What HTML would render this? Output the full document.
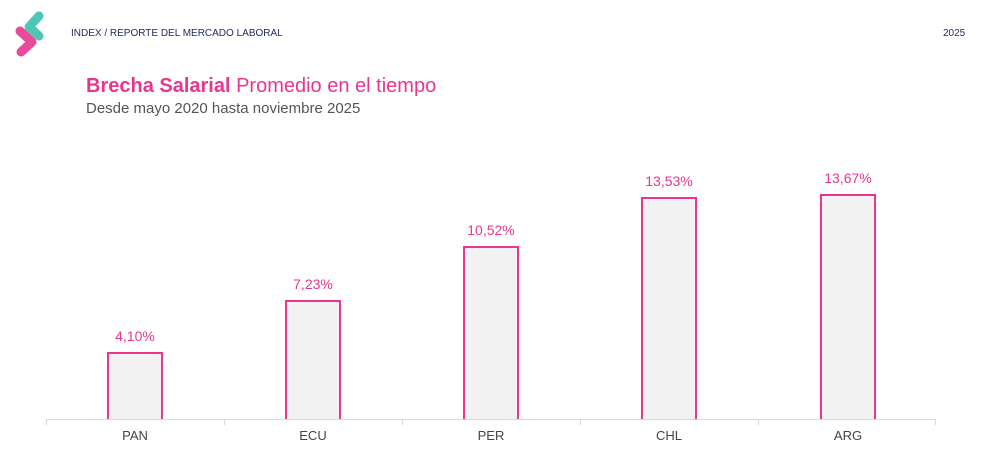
<!DOCTYPE html>
<html><head><meta charset="utf-8"><style>
body{margin:0;width:1000px;height:458px;background:#fff;overflow:hidden;font-family:"Liberation Sans",sans-serif;position:relative}
.t{position:absolute;white-space:nowrap}
.bar{position:absolute;width:56px;background:#f2f2f2;border:2px solid #e8368f;border-bottom:none;box-sizing:border-box}
.v{position:absolute;width:100px;text-align:center;color:#e8368f;font-size:14px}
.c{position:absolute;width:100px;text-align:center;color:#444;font-size:13px;top:428px}
.tick{position:absolute;top:419px;width:1px;height:6px;background:#d9d9d9}
</style></head><body>
<svg style="position:absolute;left:0;top:0" width="60" height="64">
<polyline points="39,16 29,27 39,36" fill="none" stroke="#3cbfae" stroke-width="9" stroke-linecap="round" stroke-linejoin="round" opacity="0.9"/>
<polyline points="20,31 32,42 21,52" fill="none" stroke="#e8368f" stroke-width="9" stroke-linecap="round" stroke-linejoin="round" opacity="0.9"/>
</svg>
<div class="t" style="left:71px;top:28px;font-size:10px;color:#1e2a5a">INDEX / REPORTE DEL MERCADO LABORAL</div>
<div class="t" style="left:943px;top:28px;font-size:10px;color:#1e2a5a">2025</div>
<div class="t" style="left:86px;top:75px;font-size:20px;color:#e8368f"><b>Brecha Salarial</b> Promedio en el tiempo</div>
<div class="t" style="left:86px;top:100px;font-size:15px;color:#555">Desde mayo 2020 hasta noviembre 2025</div>
<div style="position:absolute;left:46px;top:419px;width:890px;height:1px;background:#d9d9d9"></div>
<div class="tick" style="left:46px"></div><div class="tick" style="left:224px"></div><div class="tick" style="left:402px"></div><div class="tick" style="left:580px"></div><div class="tick" style="left:758px"></div><div class="tick" style="left:935px"></div>
<div class="bar" style="left:107px;top:352px;height:67px"></div>
<div class="bar" style="left:285px;top:300px;height:119px"></div>
<div class="bar" style="left:463px;top:246px;height:173px"></div>
<div class="bar" style="left:641px;top:197px;height:222px"></div>
<div class="bar" style="left:820px;top:194px;height:225px"></div>
<div class="v" style="left:85px;top:328px">4,10%</div>
<div class="v" style="left:263px;top:276px">7,23%</div>
<div class="v" style="left:441px;top:222px">10,52%</div>
<div class="v" style="left:619px;top:173px">13,53%</div>
<div class="v" style="left:798px;top:170px">13,67%</div>
<div class="c" style="left:85px">PAN</div>
<div class="c" style="left:263px">ECU</div>
<div class="c" style="left:441px">PER</div>
<div class="c" style="left:619px">CHL</div>
<div class="c" style="left:798px">ARG</div>
</body></html>
